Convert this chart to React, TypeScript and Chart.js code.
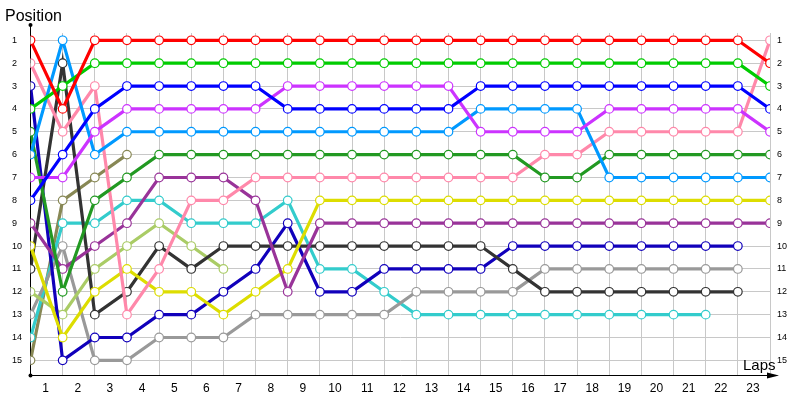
import React, { useEffect, useRef } from 'react';
import { Chart, registerables } from 'chart.js';

Chart.register(...registerables);

const laps = [0, 1, 2, 3, 4, 5, 6, 7, 8, 9, 10, 11, 12, 13, 14, 15, 16, 17, 18, 19, 20, 21, 22, 23];
const lapTickLabels = ['', '1', '2', '3', '4', '5', '6', '7', '8', '9', '10', '11', '12', '13', '14', '15', '16', '17', '18', '19', '20', '21', '22', '23'];
const positionTicks = [1, 2, 3, 4, 5, 6, 7, 8, 9, 10, 11, 12, 13, 14, 15];

const redPos = [1, 4, 1, 1, 1, 1, 1, 1, 1, 1, 1, 1, 1, 1, 1, 1, 1, 1, 1, 1, 1, 1, 1, 2];
const greenPos = [4, 3, 2, 2, 2, 2, 2, 2, 2, 2, 2, 2, 2, 2, 2, 2, 2, 2, 2, 2, 2, 2, 2, 3];
const bluePos = [8, 6, 4, 3, 3, 3, 3, 3, 4, 4, 4, 4, 4, 4, 3, 3, 3, 3, 3, 3, 3, 3, 3, 4];
const violetPos = [7, 7, 5, 4, 4, 4, 4, 4, 3, 3, 3, 3, 3, 3, 5, 5, 5, 5, 4, 4, 4, 4, 4, 5];
const skyPos = [6, 1, 6, 5, 5, 5, 5, 5, 5, 5, 5, 5, 5, 5, 4, 4, 4, 4, 7, 7, 7, 7, 7, 7];
const darkGreenPos = [5, 12, 8, 7, 6, 6, 6, 6, 6, 6, 6, 6, 6, 6, 6, 6, 7, 7, 6, 6, 6, 6, 6, 6];
const pinkPos = [2, 5, 3, 13, 11, 8, 8, 7, 7, 7, 7, 7, 7, 7, 7, 7, 6, 6, 5, 5, 5, 5, 5, 1];
const purplePos = [9, 11, 10, 9, 7, 7, 7, 8, 12, 9, 9, 9, 9, 9, 9, 9, 9, 9, 9, 9, 9, 9, 9, 9];
const yellowPos = [10, 14, 12, 11, 12, 12, 13, 12, 11, 8, 8, 8, 8, 8, 8, 8, 8, 8, 8, 8, 8, 8, 8, 8];
const blackPos = [11, 2, 13, 12, 10, 11, 10, 10, 10, 10, 10, 10, 10, 10, 10, 11, 12, 12, 12, 12, 12, 12, 12];
const navyPos = [3, 15, 14, 14, 13, 13, 12, 11, 9, 12, 12, 11, 11, 11, 11, 10, 10, 10, 10, 10, 10, 10, 10];
const lightGreenPos = [12, 13, 11, 10, 9, 10, 11];
const grayPos = [13, 10, 15, 15, 14, 14, 14, 13, 13, 13, 13, 13, 12, 12, 12, 12, 11, 11, 11, 11, 11, 11, 11];
const cyanPos = [14, 9, 9, 8, 8, 9, 9, 9, 8, 11, 11, 12, 13, 13, 13, 13, 13, 13, 13, 13, 13, 13];
const olivePos = [15, 8, 7, 6];

const seriesList = [
  { name: 'Red', data: redPos, color: '#ff0000' },
  { name: 'Green', data: greenPos, color: '#00cc00' },
  { name: 'Blue', data: bluePos, color: '#0000ff' },
  { name: 'Violet', data: violetPos, color: '#cc33ff' },
  { name: 'Sky', data: skyPos, color: '#0099ff' },
  { name: 'DarkGreen', data: darkGreenPos, color: '#229922' },
  { name: 'Pink', data: pinkPos, color: '#ff88aa' },
  { name: 'Purple', data: purplePos, color: '#993399' },
  { name: 'Yellow', data: yellowPos, color: '#dddd00' },
  { name: 'Black', data: blackPos, color: '#333333' },
  { name: 'Navy', data: navyPos, color: '#1100bb' },
  { name: 'LightGreen', data: lightGreenPos, color: '#aacc66' },
  { name: 'Gray', data: grayPos, color: '#999999' },
  { name: 'Cyan', data: cyanPos, color: '#33cccc' },
  { name: 'Olive', data: olivePos, color: '#888855' },
];

const FONT = '"Liberation Sans", Arial, sans-serif';

const decorPlugin = {
  id: 'decor',
  beforeDatasetsDraw(chart: any) {
    const { ctx, chartArea } = chart;
    const x0 = chartArea.left;
    const yb = Math.round(chartArea.bottom) + 0.5;
    ctx.save();
    ctx.strokeStyle = '#000';
    ctx.fillStyle = '#000';
    ctx.lineWidth = 1;
    ctx.beginPath();
    ctx.moveTo(x0, 25);
    ctx.lineTo(x0, yb);
    ctx.moveTo(x0, yb);
    ctx.lineTo(772, yb);
    ctx.stroke();
    ctx.beginPath();
    ctx.moveTo(779, yb);
    ctx.lineTo(767, yb - 3);
    ctx.lineTo(767, yb + 3);
    ctx.closePath();
    ctx.fill();
    ctx.beginPath();
    ctx.arc(x0, 25, 2, 0, Math.PI * 2);
    ctx.fill();
    ctx.beginPath();
    ctx.arc(x0, yb, 2, 0, Math.PI * 2);
    ctx.fill();
    ctx.restore();
  },
  afterDraw(chart: any) {
    const { ctx } = chart;
    ctx.save();
    ctx.fillStyle = '#000';
    ctx.textBaseline = 'alphabetic';
    ctx.textAlign = 'left';
    ctx.font = '16px ' + FONT;
    ctx.fillText('Position', 5, 21);
    ctx.font = '15px ' + FONT;
    ctx.fillText('Laps', 743, 370);
    ctx.restore();
  },
};

export default function App() {
  const canvasRef = useRef<HTMLCanvasElement | null>(null);

  useEffect(() => {
    if (!canvasRef.current) return;
    const chart = new Chart(canvasRef.current, {
      type: 'line',
      data: {
        labels: laps,
        datasets: seriesList.map((s) => ({
          label: s.name,
          data: s.data,
          borderColor: s.color,
          backgroundColor: '#ffffff',
          borderWidth: 3.2,
          pointRadius: 4.3,
          pointBorderWidth: 1.2,
          pointBorderColor: s.color,
          pointBackgroundColor: '#ffffff',
          tension: 0,
          fill: false,
        })),
      },
      options: {
        responsive: false,
        animation: false,
        events: [],
        layout: { padding: { left: 12, top: 33, right: 0, bottom: 0 } },
        plugins: {
          legend: { display: false },
          tooltip: { enabled: false },
          title: { display: false },
        },
        scales: {
          x: {
            type: 'linear',
            min: 0,
            max: 23,
            afterFit: (s: any) => { s.height = 25; },
            afterBuildTicks: (s: any) => { s.ticks = laps.map((v) => ({ value: v })); },
            grid: { color: '#c8c8c8', drawTicks: false, lineWidth: 1 },
            border: { display: false },
            ticks: {
              autoSkip: false,
              maxRotation: 0,
              labelOffset: -17,
              padding: 6,
              color: '#000',
              font: { family: FONT, size: 12 },
              callback: (v: any) => lapTickLabels[Math.round(Number(v))] ?? '',
            },
          },
          y: {
            type: 'linear',
            position: 'left',
            reverse: true,
            min: 0.68,
            max: 15.64,
            afterFit: (s: any) => { s.width = 18.5; },
            afterBuildTicks: (s: any) => { s.ticks = positionTicks.map((v) => ({ value: v })); },
            grid: { color: '#c8c8c8', drawTicks: false, lineWidth: 1 },
            border: { display: false },
            ticks: {
              crossAlign: 'far',
              padding: 0,
              color: '#000',
              font: { family: FONT, size: 9 },
              callback: (v: any) => String(v),
            },
          },
          y2: {
            type: 'linear',
            position: 'right',
            reverse: true,
            min: 0.68,
            max: 15.64,
            afterFit: (s: any) => { s.width = 30; },
            afterBuildTicks: (s: any) => { s.ticks = positionTicks.map((v) => ({ value: v })); },
            grid: { display: false, drawTicks: false },
            border: { display: false },
            ticks: {
              crossAlign: 'near',
              padding: 7,
              color: '#000',
              font: { family: FONT, size: 9 },
              callback: (v: any) => String(v),
            },
          },
        },
      } as any,
      plugins: [decorPlugin],
    });
    return () => chart.destroy();
  }, []);

  return (
    <div style={{ position: 'absolute', left: 0, top: 0, width: 800, height: 400, background: '#fff' }}>
      <canvas ref={canvasRef} width={800} height={400} style={{ display: 'block' }} />
    </div>
  );
}
